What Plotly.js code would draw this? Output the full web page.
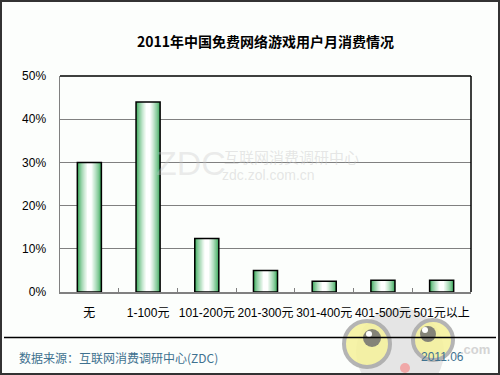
<!DOCTYPE html>
<html>
<head>
<meta charset="utf-8">
<script src="https://cdn.plot.ly/plotly-3.0.1.min.js"></script>
<style>
html,body{margin:0;padding:0;background:#fff;}
#chart{width:500px;height:375px;}
</style>
</head>
<body>
<div id="chart"></div>
<script>
// ---- data ----
var categories = ['无', '1-100元', '101-200元', '201-300元', '301-400元', '401-500元', '501元以上'];
var values = [30, 44, 12.4, 5.0, 2.5, 2.7, 2.7];
var yTickVals = [0, 10, 20, 30, 40, 50];
var yTickText = ['0%', '10%', '20%', '30%', '40%', '50%'];
var titleText = '2011年中国免费网络游戏用户月消费情况';
var sourceText = '数据来源：互联网消费调研中心(ZDC)';
var dateText = '2011.06';

// ---- geometry helpers (plot area 60..471 x, 76..292 y) ----
var L = 60, R = 471, T = 76, B = 292;
function px(x){ return (x - L) / (R - L); }
function py(y){ return (B - y) / (B - T); }

// ---- gradient bars via nested overlay traces ----
var N = 9;
var barW = 0.41;
var edge = [60, 170, 92];
var traces = [];
for (var i = 0; i < N; i++) {
  var f = i / (N - 1);
  var c = edge.map(function(v){ return Math.round(v + (255 - v) * Math.pow(f, 0.75)); });
  traces.push({
    type: 'bar', x: categories, y: values,
    width: barW * (1 - 0.8 * f),
    marker: {color: 'rgb(' + c.join(',') + ')', line: {width: 0}},
    hoverinfo: 'skip', showlegend: false
  });
}
traces.push({
  type: 'bar', x: categories, y: values, width: barW,
  marker: {color: 'rgba(0,0,0,0)', line: {color: '#000', width: 1.5}},
  hoverinfo: 'skip', showlegend: false
});

function circle(cx, cy, r, fill, line, lw, op){
  return {type:'circle', xref:'paper', yref:'paper', layer:'below',
    x0:px(cx-r), x1:px(cx+r), y0:py(cy+r), y1:py(cy-r),
    fillcolor:fill, line:{color:line||fill, width:lw||0}, opacity:op||1};
}

var shapes = [
  // 4040 logo approximation (decorative, faint)
  circle(400, 352, 44, '#e2e2e2', '#e2e2e2', 0, 0.9),
  circle(367, 344, 23, '#f6f29a', '#a8a8a8', 4, 0.85),
  circle(433, 340, 20, '#f6f29a', '#a8a8a8', 4, 0.85),
  circle(372, 338, 9, '#707070', '#707070', 0, 0.85),
  circle(428, 334, 8, '#707070', '#707070', 0, 0.85),
  circle(369, 334, 3, '#ffffff', '#ffffff', 0, 1),
  circle(425, 330, 3, '#ffffff', '#ffffff', 0, 1),
  circle(405, 368, 5, '#f0a8a8', '#f0a8a8', 0, 1),
  // plot frame top & right (black)
  {type:'line', xref:'paper', yref:'paper', x0:0, x1:1, y0:1, y1:1, line:{color:'#000', width:1.5}},
  {type:'line', xref:'paper', yref:'paper', x0:1, x1:1, y0:0, y1:1, line:{color:'#000', width:1.5}},
  // footer separator
  {type:'line', xref:'paper', yref:'paper', x0:px(4), x1:px(496), y0:py(337.5), y1:py(337.5), line:{color:'#000', width:1.3}},
  // outer border
  {type:'rect', xref:'paper', yref:'paper', x0:px(1), x1:px(499), y0:py(374), y1:py(1), line:{color:'#333', width:2}, fillcolor:'rgba(0,0,0,0)'}
];

var annotations = [
  {xref:'paper', yref:'paper', x:px(17), y:py(357), xanchor:'left', yanchor:'middle', text:sourceText, showarrow:false,
   font:{family:'"Noto Sans CJK SC", sans-serif', size:12, color:'#3f7290'}},
  {xref:'paper', yref:'paper', x:px(466), y:py(357), xanchor:'right', yanchor:'middle', text:dateText, showarrow:false,
   font:{family:'Arial, "Liberation Sans", sans-serif', size:12, color:'#3f7290'}},
  {xref:'paper', yref:'paper', x:px(492), y:py(349), xanchor:'right', yanchor:'middle', text:'<b>.com</b>', showarrow:false,
   font:{family:'Arial, "Liberation Sans", sans-serif', size:13, color:'#d4d4d4'}},
  // ZDC watermark
  {xref:'paper', yref:'paper', x:px(154), y:py(163), xanchor:'left', yanchor:'middle', text:'ZDC', showarrow:false,
   font:{family:'Arial, "Liberation Sans", sans-serif', size:34, color:'rgba(200,200,200,0.35)'}},
  {xref:'paper', yref:'paper', x:px(222), y:py(156), xanchor:'left', yanchor:'middle', text:'互联网消费调研中心', showarrow:false,
   font:{family:'"Noto Sans CJK SC", sans-serif', size:15, color:'rgba(200,200,200,0.45)'}},
  {xref:'paper', yref:'paper', x:px(220), y:py(175), xanchor:'left', yanchor:'middle', text:'zdc.zol.com.cn', showarrow:false,
   font:{family:'Arial, "Liberation Sans", sans-serif', size:14, color:'rgba(200,200,200,0.45)'}}
];

var layout = {
  width: 500, height: 375,
  margin: {l: L, r: 500 - R, t: T, b: 375 - B, pad: 0},
  paper_bgcolor: '#fcfefc', plot_bgcolor: 'rgba(0,0,0,0)',
  barmode: 'overlay',
  title: {text: '<b>' + titleText + '</b>', x: 0.5, xref: 'paper', xanchor: 'center', y: 1 - 42/375, yref: 'container', yanchor: 'middle',
    font: {family: '"Noto Sans CJK SC", sans-serif', size: 14, color: '#000'}},
  font: {family: 'Arial, "Liberation Sans", "Noto Sans CJK SC", sans-serif', size: 12, color: '#000'},
  xaxis: {
    type: 'category', showline: true, linecolor: '#808080', linewidth: 1.5,
    ticks: 'inside', tickson: 'boundaries', ticklen: 4, tickcolor: '#808080', tickwidth: 1,
    showgrid: false, ticklabelstandoff: 9, tickangle: 0,
    tickfont: {family: 'Arial, "Liberation Sans", "Noto Sans CJK SC", sans-serif', size: 12, color: '#000'},
    fixedrange: true
  },
  yaxis: {
    range: [0, 50], tickvals: yTickVals, ticktext: yTickText,
    showline: true, linecolor: '#808080', linewidth: 1.5,
    showgrid: true, gridcolor: '#808080', gridwidth: 1, zeroline: false,
    ticks: '', ticklabelstandoff: 10,
    tickfont: {family: 'Arial, "Liberation Sans", sans-serif', size: 12, color: '#000'},
    fixedrange: true
  },
  shapes: shapes,
  annotations: annotations
};

Plotly.newPlot('chart', traces, layout, {displayModeBar: false, staticPlot: true});
</script>
</body>
</html>
